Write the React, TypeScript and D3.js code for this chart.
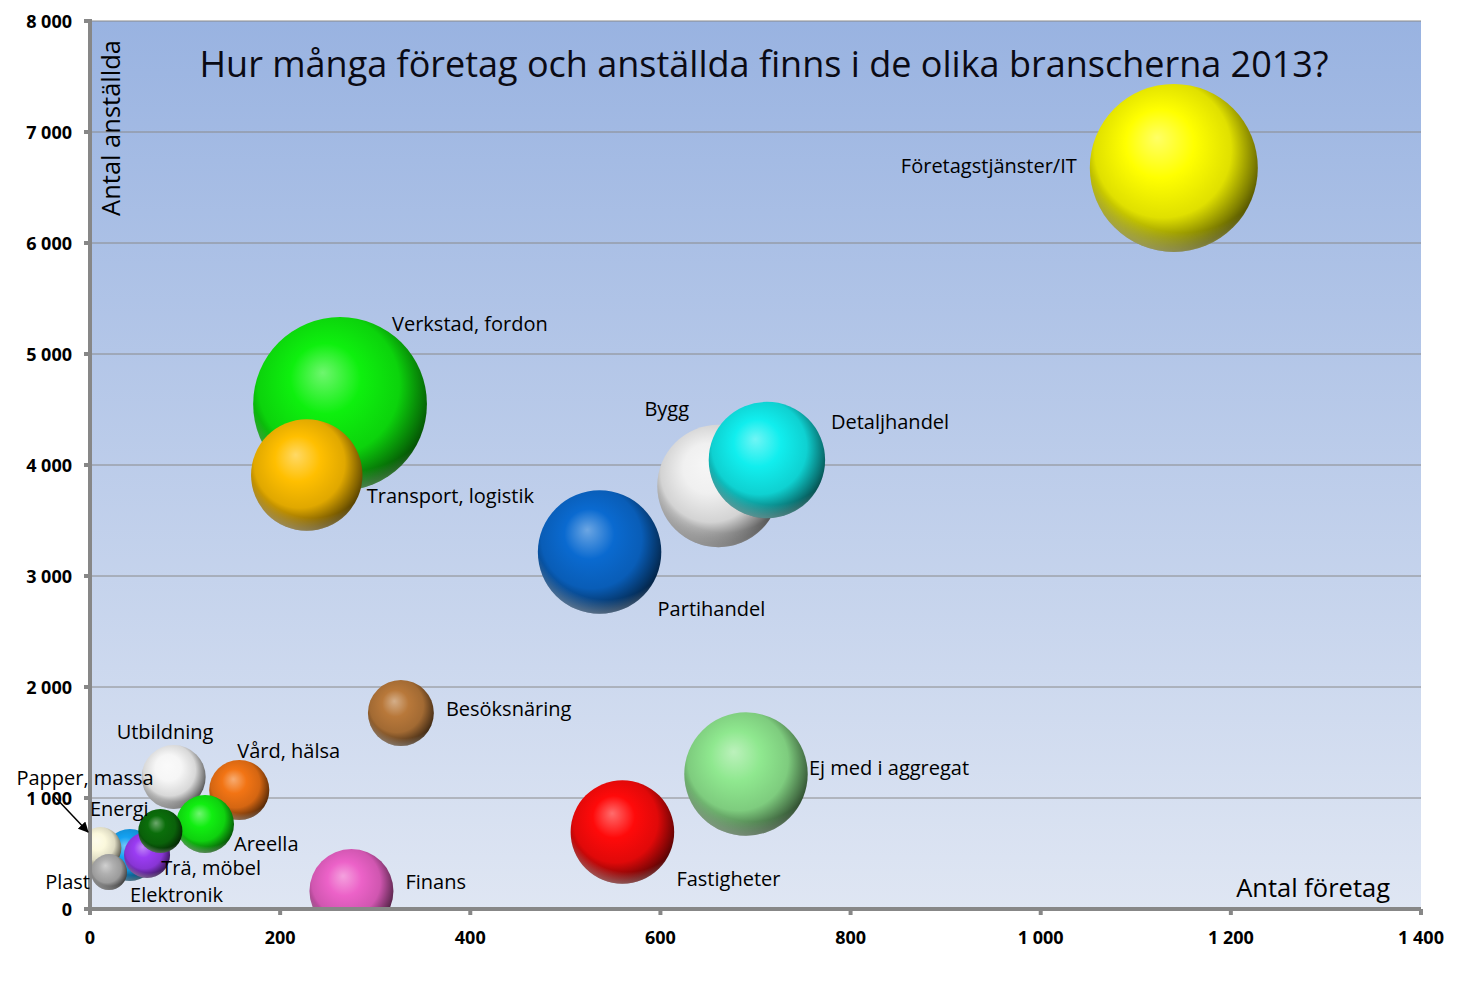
import React from "react";
import * as d3 from "d3";

// ---- Data ----
const categories = [
  "Företagstjänster/IT",
  "Verkstad, fordon",
  "Transport, logistik",
  "Partihandel",
  "Bygg",
  "Detaljhandel",
  "Besöksnäring",
  "Ej med i aggregat",
  "Fastigheter",
  "Finans",
  "Utbildning",
  "Vård, hälsa",
  "Areella",
  "Trä, möbel",
  "Elektronik",
  "Energi",
  "Papper, massa",
  "Plast",
];
// Antal företag (x)
const companies = [1140, 263, 228, 536, 661, 712, 327, 690, 560, 275, 88, 157, 121, 74, 60, 42, 11, 20];
// Antal anställda (y)
const employees = [6676, 4550, 3910, 3216, 3811, 4045, 1766, 1216, 694, 162, 1189, 1072, 766, 703, 486, 486, 550, 333];
// Bubble size (relative)
const bubbleSize = [100, 107, 44, 54, 53, 48, 15.4, 54, 38, 25, 14.5, 12.8, 11.9, 6.9, 7.5, 9.6, 6.2, 4.6];

const xTicks = [0, 200, 400, 600, 800, 1000, 1200, 1400];
const yTicks = [0, 1000, 2000, 3000, 4000, 5000, 6000, 7000, 8000];

const title = "Hur många företag och anställda finns i de olika branscherna 2013?";
const xTitle = "Antal företag";
const yTitle = "Antal anställda";

// ---- Styles ----
const colors = [
  "#ffff00", "#0ef00e", "#ffbf00", "#0a6ad0", "#f0f0f0", "#11eeee",
  "#b8783a", "#8fe88f", "#ff0a0a", "#ec62c8", "#f6f6f6", "#f27414",
  "#11ee11", "#0b6e0b", "#9a3cf2", "#14a2f2", "#fbf8dc", "#b0b0b0",
];
// label placement (offset from bubble centre, px)
const labelDx = [-97, 52, 60, 58, -74, 64, 45, 63, 54, 54, -57, -2, 29, 1, -17, -40, -84, -19];
const labelDy = [-2, -80, 21, 56, -77, -39, -4, -7, 47, -10, -46, -40, 20, 37, 39, -47, -70, 9];
const labelAnchor = ["end", "start", "start", "start", "start", "start", "start", "start", "start", "start",
  "start", "start", "start", "start", "start", "start", "start", "end"];

const W = 1461, H = 995;
const PL = 90, PR = 1421, PT = 21, PB = 909;
const FONT = "'Open Sans', 'DejaVu Sans', sans-serif";
const fmt = (v: number) => (v >= 1000 ? `${Math.floor(v / 1000)} ${String(v % 1000).padStart(3, "0")}` : `${v}`);

export default function App() {
  const x = d3.scaleLinear().domain([0, 1400]).range([PL, PR]);
  const y = d3.scaleLinear().domain([0, 8000]).range([PB, PT]);
  const r = d3.scaleSqrt().domain([0, 100]).range([0, 84]);

  const idx = d3.range(categories.length).sort((a, b) => bubbleSize[b] - bubbleSize[a]);

  const shade = (c: string, k: number) => d3.interpolateRgb(c, "#000")(k);
  const light = (c: string, k: number) => d3.interpolateRgb(c, "#fff")(k);

  return (
    <div style={{ position: "absolute", left: 0, top: 0 }}>
      <svg width={W} height={H} style={{ display: "block", background: "#fff" }}>
        <defs>
          <linearGradient id="bg" x1="0" y1="0" x2="0" y2="1">
            <stop offset="0" stopColor="#99b3e1" />
            <stop offset="1" stopColor="#dfe6f3" />
          </linearGradient>
          <clipPath id="plotClip">
            <rect x={PL} y={PT} width={PR - PL} height={PB - PT} />
          </clipPath>
          {categories.map((_, i) => (
            <radialGradient key={i} id={`g${i}`} cx="0.45" cy="0.42" r="0.58" fx="0.4" fy="0.32">
              <stop offset="0" stopColor={light(colors[i], 0.4)} />
              <stop offset="0.35" stopColor={colors[i]} />
              <stop offset="0.7" stopColor={shade(colors[i], 0.12)} />
              <stop offset="0.92" stopColor={shade(colors[i], 0.5)} />
              <stop offset="1" stopColor={shade(colors[i], 0.65)} />
            </radialGradient>
          ))}
          <radialGradient id="rim" cx="0.55" cy="0.3" r="0.75">
            <stop offset="0.78" stopColor="#fff" stopOpacity="0" />
            <stop offset="1" stopColor="#fff" stopOpacity="0.45" />
          </radialGradient>
          <marker id="arrow" viewBox="0 0 10 10" refX="9" refY="5" markerWidth="7" markerHeight="7" orient="auto">
            <path d="M0,0 L10,5 L0,10 z" fill="#000" />
          </marker>
        </defs>

        <rect x={PL} y={PT} width={PR - PL} height={PB - PT} fill="url(#bg)" />

        {yTicks.filter((t) => t > 0).map((t) => (
          <line key={t} x1={PL} x2={PR} y1={y(t)} y2={y(t)} stroke="#8a8a8a" strokeWidth={1} />
        ))}

        <g clipPath="url(#plotClip)">
          {idx.map((i) => (
            <g key={i}>
              <circle cx={x(companies[i])} cy={y(employees[i])} r={r(bubbleSize[i])} fill={`url(#g${i})`} />
              <circle cx={x(companies[i])} cy={y(employees[i])} r={r(bubbleSize[i])} fill="url(#rim)" />
            </g>
          ))}
        </g>

        {/* axes */}
        <line x1={PL} x2={PL} y1={PT - 2} y2={PB + 2} stroke="#878787" strokeWidth={4} />
        <line x1={PL - 2} x2={PR} y1={PB} y2={PB} stroke="#878787" strokeWidth={4} />
        {yTicks.map((t) => (
          <line key={t} x1={PL - 6} x2={PL} y1={y(t)} y2={y(t)} stroke="#878787" strokeWidth={4} />
        ))}
        {xTicks.map((t) => (
          <line key={t} x1={x(t)} x2={x(t)} y1={PB} y2={PB + 6} stroke="#878787" strokeWidth={4} />
        ))}
        {yTicks.map((t) => (
          <text key={t} x={72} y={y(t)} textAnchor="end" dominantBaseline="central" fontFamily={FONT}
            fontWeight="bold" fontSize={18} fill="#000">{fmt(t)}</text>
        ))}
        {xTicks.map((t) => (
          <text key={t} x={x(t)} y={937} textAnchor="middle" dominantBaseline="central" fontFamily={FONT}
            fontWeight="bold" fontSize={18} fill="#000">{fmt(t)}</text>
        ))}

        {/* labels */}
        {categories.map((c, i) => (
          <text key={c} x={x(companies[i]) + labelDx[i]} y={y(employees[i]) + labelDy[i]}
            textAnchor={labelAnchor[i]} dominantBaseline="central" fontFamily={FONT} fontSize={20} fill="#000">
            {c}
          </text>
        ))}
        <line x1={54} y1={796} x2={88} y2={832} stroke="#000" strokeWidth={1.5} markerEnd="url(#arrow)" />

        {/* titles */}
        <text x={764} y={63} textAnchor="middle" dominantBaseline="central" fontFamily={FONT} fontSize={36} fill="#0a0a14">
          {title}
        </text>
        <text x={1390} y={887} textAnchor="end" dominantBaseline="central" fontFamily={FONT} fontSize={25.5} fill="#000">
          {xTitle}
        </text>
        <text transform="translate(110,128) rotate(-90)" textAnchor="middle" dominantBaseline="central"
          fontFamily={FONT} fontSize={25.5} fill="#000">{yTitle}</text>
      </svg>
    </div>
  );
}
